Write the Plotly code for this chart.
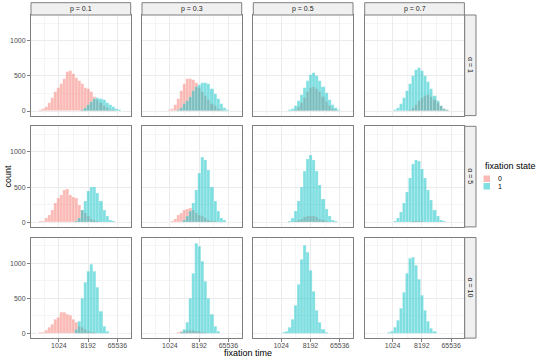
import plotly.graph_objects as go
import math

# ---------------- data ----------------
p_labels = ["p = 0.1", "p = 0.3", "p = 0.5", "p = 0.7"]
alpha_labels = ["α = 1", "α = 5", "α = 10"]
state_labels = ["0", "1"]

bin_start_log2 = 7.65      # left edge of first bin, log2(fixation time)
bin_width_log2 = 0.31
x_tick_values = [1024, 8192, 65536]
x_tick_labels = ["1024", "8192", "65536"]
y_tick_values = [0, 500, 1000]

# counts per bin (30 bins), one list per p value, for fixation state 0 and 1
state0_alpha1 = [
    [5, 15, 30, 60, 110, 190, 270, 330, 390, 460, 560, 570, 530, 470, 430, 380, 330, 310, 270, 200, 150, 110, 70, 40, 20, 10, 4, 1, 0, 0],
    [0, 0, 0, 0, 0, 0, 3, 10, 35, 80, 170, 290, 380, 460, 450, 440, 400, 330, 270, 210, 150, 105, 65, 35, 15, 5, 2, 0, 0, 0],
    [0, 0, 0, 0, 0, 0, 0, 0, 0, 0, 0, 5, 20, 60, 120, 190, 270, 330, 345, 320, 270, 200, 130, 70, 30, 10, 3, 0, 0, 0],
    [0, 0, 0, 0, 0, 0, 0, 0, 0, 0, 0, 0, 5, 20, 50, 90, 140, 190, 220, 225, 200, 160, 110, 65, 30, 10, 3, 0, 0, 0],
]
state1_alpha1 = [
    [0, 0, 0, 0, 0, 0, 0, 0, 0, 0, 0, 0, 0, 0, 5, 20, 50, 90, 130, 170, 185, 170, 150, 120, 90, 60, 30, 10, 3, 0],
    [0, 0, 0, 0, 0, 0, 0, 0, 0, 0, 10, 40, 100, 140, 200, 280, 340, 370, 395, 400, 390, 320, 240, 170, 100, 50, 18, 5, 0, 0],
    [0, 0, 0, 0, 0, 0, 0, 0, 0, 0, 10, 30, 70, 140, 230, 330, 430, 510, 535, 500, 430, 340, 250, 160, 90, 40, 15, 5, 0, 0],
    [0, 0, 0, 0, 0, 0, 0, 5, 20, 50, 100, 180, 280, 390, 500, 580, 605, 570, 500, 410, 310, 220, 140, 75, 35, 12, 4, 0, 0, 0],
]
state0_alpha5 = [
    [0, 10, 20, 57, 105, 175, 270, 340, 390, 450, 470, 390, 355, 340, 245, 175, 130, 80, 47, 24, 10, 0, 0, 0, 0, 0, 0, 0, 0, 0],
    [0, 0, 0, 0, 0, 0, 0, 5, 20, 47, 105, 130, 165, 185, 200, 175, 130, 105, 80, 57, 33, 20, 10, 0, 0, 0, 0, 0, 0, 0],
    [0, 0, 0, 0, 0, 0, 0, 0, 0, 0, 0, 5, 15, 30, 50, 70, 85, 90, 85, 70, 50, 30, 15, 5, 0, 0, 0, 0, 0, 0],
    [0, 0, 0, 0, 0, 0, 0, 0, 0, 0, 0, 0, 3, 5, 8, 10, 10, 8, 5, 3, 0, 0, 0, 0, 0, 0, 0, 0, 0, 0],
]
state1_alpha5 = [
    [0, 0, 0, 0, 0, 0, 0, 0, 0, 0, 0, 0, 0, 10, 57, 175, 295, 435, 505, 505, 410, 295, 175, 80, 24, 10, 0, 0, 0, 0],
    [0, 0, 0, 0, 0, 0, 0, 0, 0, 0, 0, 5, 33, 80, 150, 270, 460, 695, 930, 880, 740, 505, 295, 150, 57, 24, 5, 0, 0, 0],
    [0, 0, 0, 0, 0, 0, 0, 0, 0, 5, 20, 60, 150, 300, 500, 720, 900, 950, 880, 720, 520, 330, 180, 80, 30, 10, 0, 0, 0, 0],
    [0, 0, 0, 0, 0, 0, 0, 5, 20, 60, 140, 270, 430, 620, 820, 880, 870, 760, 620, 460, 310, 170, 80, 30, 10, 0, 0, 0, 0, 0],
]
state0_alpha10 = [
    [0, 10, 19, 47, 80, 128, 200, 235, 300, 295, 270, 255, 200, 150, 105, 80, 57, 33, 19, 10, 0, 0, 0, 0, 0, 0, 0, 0, 0, 0],
    [0, 0, 0, 0, 0, 0, 0, 0, 0, 5, 15, 25, 35, 45, 50, 45, 35, 25, 15, 8, 3, 0, 0, 0, 0, 0, 0, 0, 0, 0],
    [0, 0, 0, 0, 0, 0, 0, 0, 0, 0, 0, 0, 2, 3, 4, 4, 3, 2, 0, 0, 0, 0, 0, 0, 0, 0, 0, 0, 0, 0],
    [0, 0, 0, 0, 0, 0, 0, 0, 0, 0, 0, 2, 3, 3, 3, 2, 0, 0, 0, 0, 0, 0, 0, 0, 0, 0, 0, 0, 0, 0],
]
state1_alpha10 = [
    [0, 0, 0, 0, 0, 0, 0, 0, 0, 0, 0, 0, 5, 57, 175, 505, 720, 885, 980, 885, 650, 317, 105, 33, 5, 0, 0, 0, 0, 0],
    [0, 0, 0, 0, 0, 0, 0, 0, 0, 0, 0, 10, 57, 150, 505, 860, 1285, 1240, 1025, 740, 505, 270, 105, 33, 5, 0, 0, 0, 0, 0],
    [0, 0, 0, 0, 0, 0, 0, 0, 10, 30, 80, 200, 400, 700, 1050, 1250, 1150, 900, 600, 330, 150, 60, 20, 5, 0, 0, 0, 0, 0, 0],
    [0, 0, 0, 0, 0, 0, 10, 30, 80, 180, 350, 580, 850, 1060, 1080, 960, 770, 540, 330, 170, 70, 25, 5, 0, 0, 0, 0, 0, 0, 0],
]

state0_rows = [state0_alpha1, state0_alpha5, state0_alpha10]
state1_rows = [state1_alpha1, state1_alpha5, state1_alpha10]

# ---------------- style / layout ----------------
W, H = 540, 360
FONT = "Liberation Sans, Arial, sans-serif"
PINK = "rgba(248,118,109,0.5)"
TEAL = "rgba(0,191,196,0.5)"
BORDER = "#7F7F7F"
col_left = [31, 142, 253.3, 364.7]
col_w = 99.7
row_top = [15, 126.3, 237.5]
row_h = 100.6
x_range = [7.14, 17.36]
y_range = [-65, 1365]


def px(x):
    return x / W


def py(y):
    return 1 - y / H


fig = go.Figure()
layout = dict(
    width=W, height=H, margin=dict(l=0, r=0, t=0, b=0),
    paper_bgcolor="white", plot_bgcolor="white",
    barmode="overlay", bargap=0, showlegend=False,
    font=dict(family=FONT, size=7, color="#4D4D4D"),
)
shapes = []
annotations = []

n_bins = len(state0_alpha1[0])
centers = [bin_start_log2 + bin_width_log2 * (i + 0.5) for i in range(n_bins)]
tick_pos = [math.log2(v) for v in x_tick_values]
minor_x = [t - 1.5 for t in tick_pos] + [tick_pos[-1] + 1.5]

for r in range(3):
    for c in range(4):
        k = r * 4 + c + 1
        xa = "x" if k == 1 else f"x{k}"
        ya = "y" if k == 1 else f"y{k}"
        for counts, color in ((state0_rows[r][c], PINK), (state1_rows[r][c], TEAL)):
            fig.add_trace(go.Bar(
                x=centers, y=counts, width=bin_width_log2,
                marker=dict(color=color, line=dict(width=0.4, color="rgba(255,255,255,0.45)")),
                xaxis=xa, yaxis=ya, hoverinfo="skip",
            ))
        x0 = col_left[c]
        y0 = row_top[r]
        bottom = r == 2
        left = c == 0
        layout[f"xaxis{'' if k == 1 else k}"] = dict(
            domain=[px(x0), px(x0 + col_w)], anchor=ya, range=x_range,
            tickvals=tick_pos, ticktext=x_tick_labels, showticklabels=bottom,
            ticks="outside" if bottom else "", ticklen=3, tickwidth=0.8, tickcolor=BORDER,
            ticklabelstandoff=-3,
            tickfont=dict(size=7, color="#4D4D4D"),
            showgrid=True, gridcolor="#EBEBEB", gridwidth=0.8, zeroline=False,
            minor=dict(tickvals=minor_x, showgrid=True, gridcolor="#F5F5F5", gridwidth=0.5, ticks=""),
            showline=True, mirror=True, linecolor=BORDER, linewidth=1,
        )
        layout[f"yaxis{'' if k == 1 else k}"] = dict(
            domain=[py(y0 + row_h), py(y0)], anchor=xa, range=y_range,
            tickvals=y_tick_values, showticklabels=left,
            ticks="outside" if left else "", ticklen=3, tickwidth=0.8, tickcolor=BORDER,
            tickfont=dict(size=7, color="#4D4D4D"),
            showgrid=True, gridcolor="#EBEBEB", gridwidth=0.8, zeroline=False,
            minor=dict(tickvals=[250, 750, 1250], showgrid=True, gridcolor="#F5F5F5", gridwidth=0.5, ticks=""),
            showline=True, mirror=True, linecolor=BORDER, linewidth=1,
        )

# top strips
for c in range(4):
    x0 = col_left[c]
    shapes.append(dict(type="rect", xref="paper", yref="paper",
                       x0=px(x0), x1=px(x0 + col_w), y0=py(15), y1=py(2.7),
                       fillcolor="#F0F0F0", line=dict(color=BORDER, width=1)))
    annotations.append(dict(text=p_labels[c], xref="paper", yref="paper",
                            x=px(x0 + col_w / 2), y=py(8.9), showarrow=False,
                            font=dict(size=7, color="#1A1A1A"), xanchor="center", yanchor="middle"))
# right strips
for r in range(3):
    y0 = row_top[r]
    shapes.append(dict(type="rect", xref="paper", yref="paper",
                       x0=px(464.7), x1=px(476), y0=py(y0 + row_h), y1=py(y0),
                       fillcolor="#F0F0F0", line=dict(color=BORDER, width=1)))
    annotations.append(dict(text=alpha_labels[r], xref="paper", yref="paper",
                            x=px(470.3), y=py(y0 + row_h / 2), showarrow=False, textangle=90,
                            font=dict(size=7, color="#1A1A1A"), xanchor="center", yanchor="middle"))

# axis titles
annotations.append(dict(text="fixation time", xref="paper", yref="paper",
                        x=px(247.7), y=py(353), showarrow=False,
                        font=dict(size=9, color="black"), xanchor="center", yanchor="middle"))
annotations.append(dict(text="count", xref="paper", yref="paper",
                        x=px(7), y=py(176.5), showarrow=False, textangle=-90,
                        font=dict(size=9, color="black"), xanchor="center", yanchor="middle"))

# legend
annotations.append(dict(text="fixation state", xref="paper", yref="paper",
                        x=px(483), y=py(166), showarrow=False,
                        font=dict(size=9, color="black"), xanchor="left", yanchor="middle"))
for j, (lab, color) in enumerate(zip(state_labels, (PINK, TEAL))):
    yt = 175.5 + j * 7.5
    shapes.append(dict(type="rect", xref="paper", yref="paper",
                       x0=px(483.5), x1=px(490), y0=py(yt + 6.5), y1=py(yt),
                       fillcolor=color, line=dict(width=0)))
    annotations.append(dict(text=lab, xref="paper", yref="paper",
                            x=px(495.5), y=py(yt + 3.25), showarrow=False,
                            font=dict(size=7, color="black"), xanchor="left", yanchor="middle"))

layout["shapes"] = shapes
layout["annotations"] = annotations
fig.update_layout(**layout)
fig.write_html("out.html", config={"displayModeBar": False},
               post_script="document.body.style.margin='0';document.body.style.overflow='hidden';")
